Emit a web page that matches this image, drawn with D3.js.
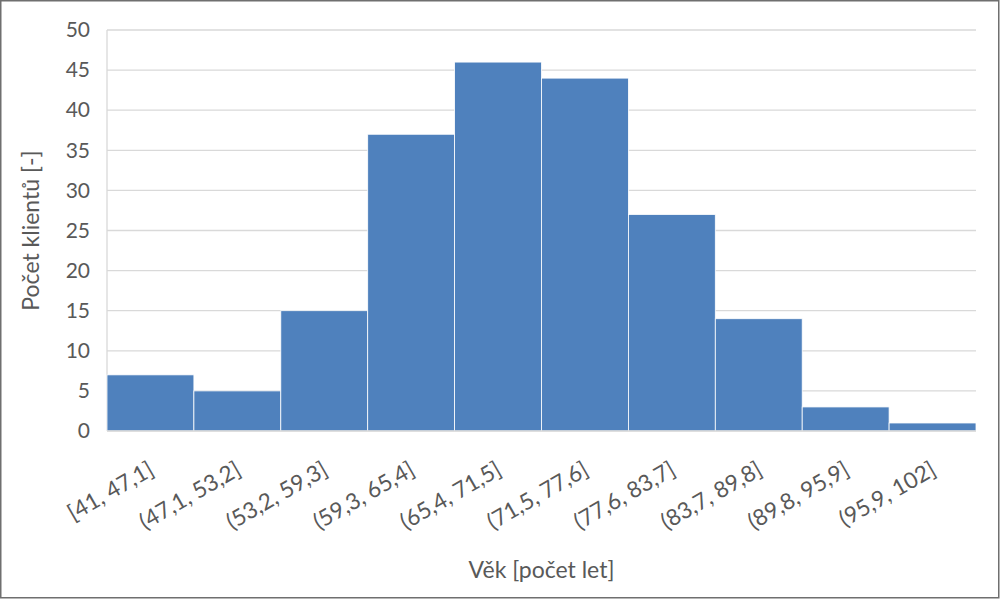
<!DOCTYPE html>
<html>
<head>
<meta charset="utf-8">
<script src="https://cdn.jsdelivr.net/npm/d3@7"></script>
<style>
  body { margin: 0; background: #fff; }
  text { font-family: Lato, "Open Sans", sans-serif; fill: #595959; }
</style>
</head>
<body>
<div id="chart"></div>
<script>
const categories = ["[41, 47,1]", "(47,1, 53,2]", "(53,2, 59,3]", "(59,3, 65,4]", "(65,4, 71,5]",
    "(71,5, 77,6]", "(77,6, 83,7]", "(83,7, 89,8]", "(89,8, 95,9]", "(95,9, 102]"];
const counts = [7, 5, 15, 37, 46, 44, 27, 14, 3, 1];
const yTicks = [0, 5, 10, 15, 20, 25, 30, 35, 40, 45, 50];

const W = 1000, H = 599;
const margin = { LEFT: 107, RIGHT: 24, TOP: 30, BOTTOM: 168 };
const width = W - margin.LEFT - margin.RIGHT;
const height = H - margin.TOP - margin.BOTTOM;

const svg = d3.select("#chart").append("svg")
    .attr("width", W)
    .attr("height", H);

// outer border
svg.append("rect")
    .attr("x", 0.75).attr("y", 0.75)
    .attr("width", W - 2).attr("height", H - 2)
    .attr("fill", "#fff")
    .attr("stroke", "#6f6f6f")
    .attr("stroke-width", 1.5);

const g = svg.append("g")
    .attr("transform", `translate(${margin.LEFT}, ${margin.TOP})`);

const x = d3.scaleBand()
    .domain(categories)
    .range([0, width])
    .padding(0);

const y = d3.scaleLinear()
    .domain([0, 50])
    .range([height, 0]);

// gridlines
g.append("g")
    .selectAll("line")
    .data(yTicks)
    .enter().append("line")
    .attr("x1", 0)
    .attr("x2", width)
    .attr("y1", d => y(d))
    .attr("y2", d => y(d))
    .attr("stroke", "#d9d9d9")
    .attr("stroke-width", 1.3);

// left edge line
g.append("line")
    .attr("x1", 0).attr("x2", 0)
    .attr("y1", 0).attr("y2", height)
    .attr("stroke", "#d9d9d9")
    .attr("stroke-width", 1.3);

// bars
g.selectAll("rect.bar")
    .data(counts)
    .enter().append("rect")
    .attr("class", "bar")
    .attr("x", (d, i) => x(categories[i]))
    .attr("y", d => y(d))
    .attr("width", x.bandwidth())
    .attr("height", d => height - y(d))
    .attr("fill", "#4f81bd")
    .attr("stroke", "#ffffff")
    .attr("stroke-width", 0.8);

// x baseline
g.append("line")
    .attr("x1", 0).attr("x2", width)
    .attr("y1", height).attr("y2", height)
    .attr("stroke", "#d9d9d9")
    .attr("stroke-width", 1.5);

// Y axis
const yAxis = g.append("g")
    .call(d3.axisLeft(y).tickValues(yTicks).tickSize(0).tickPadding(17));
yAxis.select(".domain").remove();
yAxis.selectAll("text")
    .attr("font-size", "21px")
    .attr("fill", "#595959");

// X axis
const xAxis = g.append("g")
    .attr("transform", `translate(0, ${height})`)
    .call(d3.axisBottom(x).tickSize(0));
xAxis.select(".domain").remove();
xAxis.selectAll("text")
    .attr("font-size", "22.5px")
    .attr("fill", "#595959")
    .attr("text-anchor", "end")
    .attr("x", 0)
    .attr("y", 0)
    .attr("dy", 0)
    .attr("transform", "translate(5, 43) rotate(-30)");

// axis titles
svg.append("text")
    .attr("x", margin.LEFT + width / 2)
    .attr("y", 578)
    .attr("text-anchor", "middle")
    .attr("font-size", "23px")
    .text("Věk [počet let]");

svg.append("text")
    .attr("transform", `translate(39, ${margin.TOP + height / 2}) rotate(-90)`)
    .attr("text-anchor", "middle")
    .attr("font-size", "23px")
    .text("Počet klientů [-]");
</script>
</body>
</html>
